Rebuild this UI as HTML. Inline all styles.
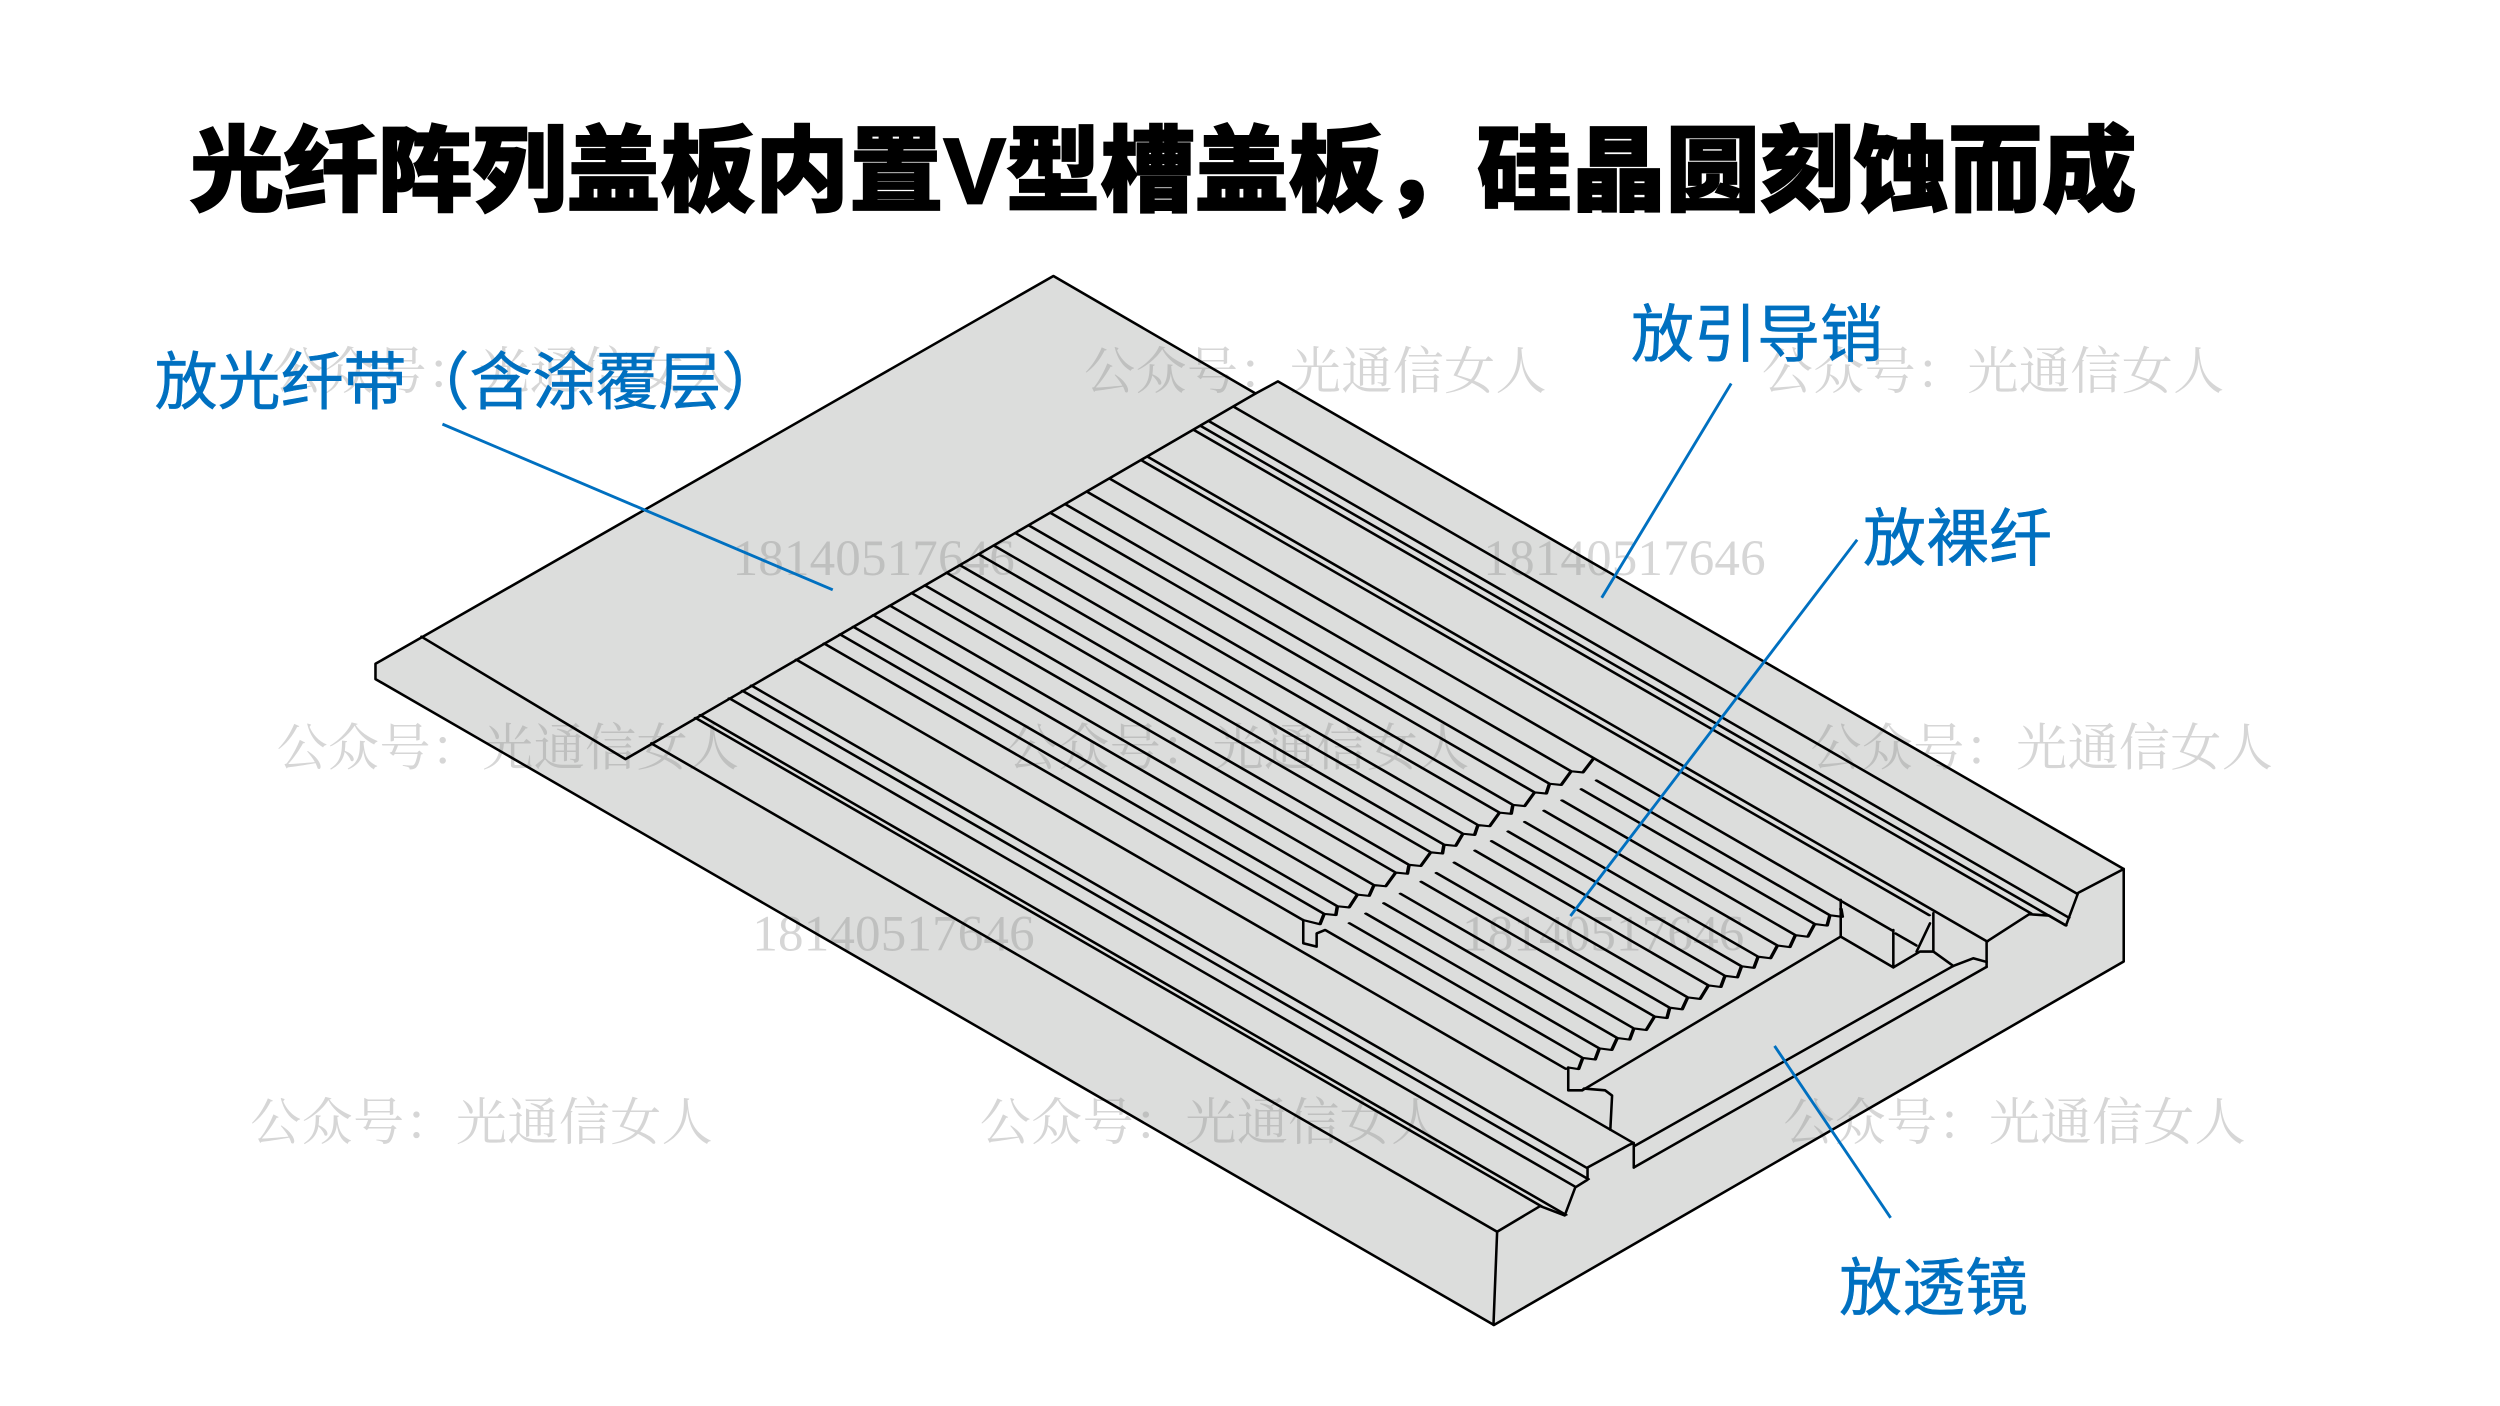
<!DOCTYPE html>
<html>
<head>
<meta charset="utf-8">
<style>
html,body{margin:0;padding:0;background:#fff;}
svg{display:block;}
</style>
</head>
<body>
<svg width="2500" height="1406" viewBox="0 0 1568 881.8" preserveAspectRatio="none" xmlns="http://www.w3.org/2000/svg">
<rect x="0" y="0" width="1568" height="882" fill="#ffffff"/>

<!-- Title -->
<text x="119" y="127.5" textLength="1221" lengthAdjust="spacingAndGlyphs" font-family="'Liberation Sans','Noto Sans CJK SC',sans-serif" font-weight="900" font-size="58.6" fill="#000" stroke="#000" stroke-width="1.1">光纤阵列盖板内置V型槽盖板，硅晶圆刻蚀而成</text>

<!-- silhouette -->
<path d="M660.7,173.1 L787.5,246.8 L801.5,239.2 L1332,545 L1332,603 L937,831 L235.5,425.9 L235.5,416.3 Z" fill="#dcdddc" stroke="none"/>

<!-- watermarks -->
<g font-family="'Liberation Serif','Noto Serif CJK SC',serif" font-size="32" fill="#8a8a8a" fill-opacity="0.35">
<text x="171" y="244" textLength="290">公众号：光通信女人</text>
<text x="680" y="244" textLength="290">公众号：光通信女人</text>
<text x="1105" y="244" textLength="290">公众号：光通信女人</text>
<text x="173.5" y="480" textLength="290">公众号：光通信女人</text>
<text x="631.5" y="480" textLength="290">公众号：光通信女人</text>
<text x="1135.5" y="480" textLength="290">公众号：光通信女人</text>
<text x="157" y="715" textLength="290">公众号：光通信女人</text>
<text x="614.5" y="715" textLength="290">公众号：光通信女人</text>
<text x="1118.5" y="715" textLength="290">公众号：光通信女人</text>
<text x="459.5" y="360.5" textLength="177">18140517646</text>
<text x="930.4" y="360.5" textLength="177">18140517646</text>
<text x="471.9" y="596" textLength="177">18140517646</text>
<text x="917" y="596" textLength="177">18140517646</text>
</g>

<!-- outline and screen-space lines -->
<g fill="none" stroke="#000" stroke-width="1.6" stroke-linejoin="round" stroke-linecap="round">
<path d="M660.7,173.1 L787.5,246.8 L801.5,239.2 L1332,545 L1332,603 L937,831 L235.5,425.9 L235.5,416.3 Z"/>
<path d="M264.3,399.3 L392.3,476.1 L787.5,246.8"/>
<path d="M408.5,466.2 L939,772.5"/>
<path d="M939,772.5 L936.7,831"/>
<!-- front profile -->
<path d="M939,772.5 L966,756.4 L981.4,762.3 L988,744.7 L995.7,739.9 L995.7,732.2 L1022.1,717.9 L1024.7,716.8 L1024.7,732.2"/>
<path d="M1246,606.4 L1246,590.6 L1272.6,573.4 L1285.2,574.2 L1295.8,580.4 L1303.4,560 L1332,545"/>
<!-- lens trench -->
<path d="M1024.7,732.2 L1246,606.4"/>
<path d="M1024.7,719 L1225.1,605.8 L1237.6,601 L1246,603.3"/>
<path d="M992.4,683.8 L1154.5,587.4"/>
<path d="M983.6,669.5 L983.6,683.8 L992.4,683.8 L993.5,682.7 L1006.7,683.8 L1011.1,687.1 L1010,708.5"/>
<!-- coated stair left notch -->
<path d="M817.4,577 L817.4,591.6 L825.8,593.7 L825.8,585.4 L831,583.3"/>
<!-- box at right of trench -->
<path d="M1154.5,564.4 L1154.5,587.4 L1187.5,606.7 L1187.5,583.3"/>
<path d="M1187.5,606.7 L1204.2,596.8 L1212.6,596.8 L1212.6,572.8"/>
<path d="M1189,585.5 L1202,593"/>
<path d="M1202.1,596.8 L1210.5,579.1"/>
<path d="M1212.6,596.8 L1225.1,605.8"/>
</g>

<!-- isometric top-surface lines (local s,t coords) -->
<g transform="matrix(0.866 0.5 0.866 -0.5 939 772.5)" fill="none" stroke="#000" stroke-width="1.85" stroke-linejoin="round" stroke-linecap="round">
<path d="
M-612.6 32H0
M-612.6 35.5H14.3
M-612.6 56.5H0
M-612.6 66H0
M-612.6 72.5H-7.5
M-612.6 105H-7
M-612.6 422H-2.1
M-612.6 404H10.1
M-612.6 398H13.9
M-612.6 393H-6.5
M-612.6 359.5H-4.6
M-612.6 355H-42
M-612.6 332H-45.7
M-612.6 315.6H-262
M-612.6 299.9H-262
M-612.6 289.1H-262
M-612.6 273.4H-262
M-612.6 263.7H-262
M-612.6 248.1H-262
M-612.6 237.2H-262
M-612.6 223.5H-262
M-612.6 213.9H-262
M-612.6 198.2H-262
M-612.6 188.5H-262
M-612.6 172.8H-262
M-612.6 160.8H-262
M-612.6 146.3H-262
M-612.6 136.7H-262
M-612.6 125.2H-265.7
M-262 332 L-257 319.1 L-262 315.6 L-257 303.4 L-262 299.9 L-257 292.6 L-262 289.1 L-257 276.9 L-262 273.4 L-257 267.2 L-262 263.7 L-257 251.6 L-262 248.1 L-257 240.7 L-262 237.2 L-257 227 L-262 223.5 L-257 217.4 L-262 213.9 L-257 201.7 L-262 198.2 L-257 192 L-262 188.5 L-257 176.3 L-262 172.8 L-257 164.3 L-262 160.8 L-257 149.8 L-262 146.3 L-257 140.2 L-262 136.7 L-257 128.7 L-265.7 125.2
M-247 319H-78
M-247 308H-78
M-247 294H-78
M-247 281H-78
M-247 267H-78
M-247 255H-78
M-247 243H-78
M-247 231H-78
M-247 216H-78
M-247 203H-78
M-247 192H-78
M-247 177H-78
M-247 165H-78
M-247 152H-78
M-247 140H-78
M-251.5 127H-77.2
M-78 327 L-72.5 322.5 L-78 319 L-72.5 311.5 L-78 308 L-72.5 297.5 L-78 294 L-72.5 284.5 L-78 281 L-72.5 270.5 L-78 267 L-72.5 258.5 L-78 255 L-72.5 246.5 L-78 243 L-72.5 234.5 L-78 231 L-72.5 219.5 L-78 216 L-72.5 206.5 L-78 203 L-72.5 195.5 L-78 192 L-72.5 180.5 L-78 177 L-72.5 168.5 L-78 165 L-72.5 155.5 L-78 152 L-72.5 143.5 L-78 140 L-72.5 131.5 L-77.2 128.8
"/>
</g>

<!-- leader lines -->
<g stroke="#0070c0" stroke-width="1.8" stroke-linecap="butt" fill="none">
<path d="M277.5,266 L522.3,369.9"/>
<path d="M1085.8,240.5 L1004.6,374.9"/>
<path d="M1164.8,338.5 L985,574.5"/>
<path d="M1113,656 L1185.8,763.8"/>
</g>

<!-- labels -->
<g font-family="'Liberation Sans','Noto Sans CJK SC',sans-serif" font-size="39.5" fill="#0070c0" stroke="#0070c0" stroke-width="0.35">
<text x="97" y="253.5">放光纤带（含涂覆层）</text>
<text x="1023" y="223.5">放引导销</text>
<text x="1168.5" y="351.5">放裸纤</text>
<text x="1153.5" y="821.5">放透镜</text>
</g>
</svg>
</body>
</html>
